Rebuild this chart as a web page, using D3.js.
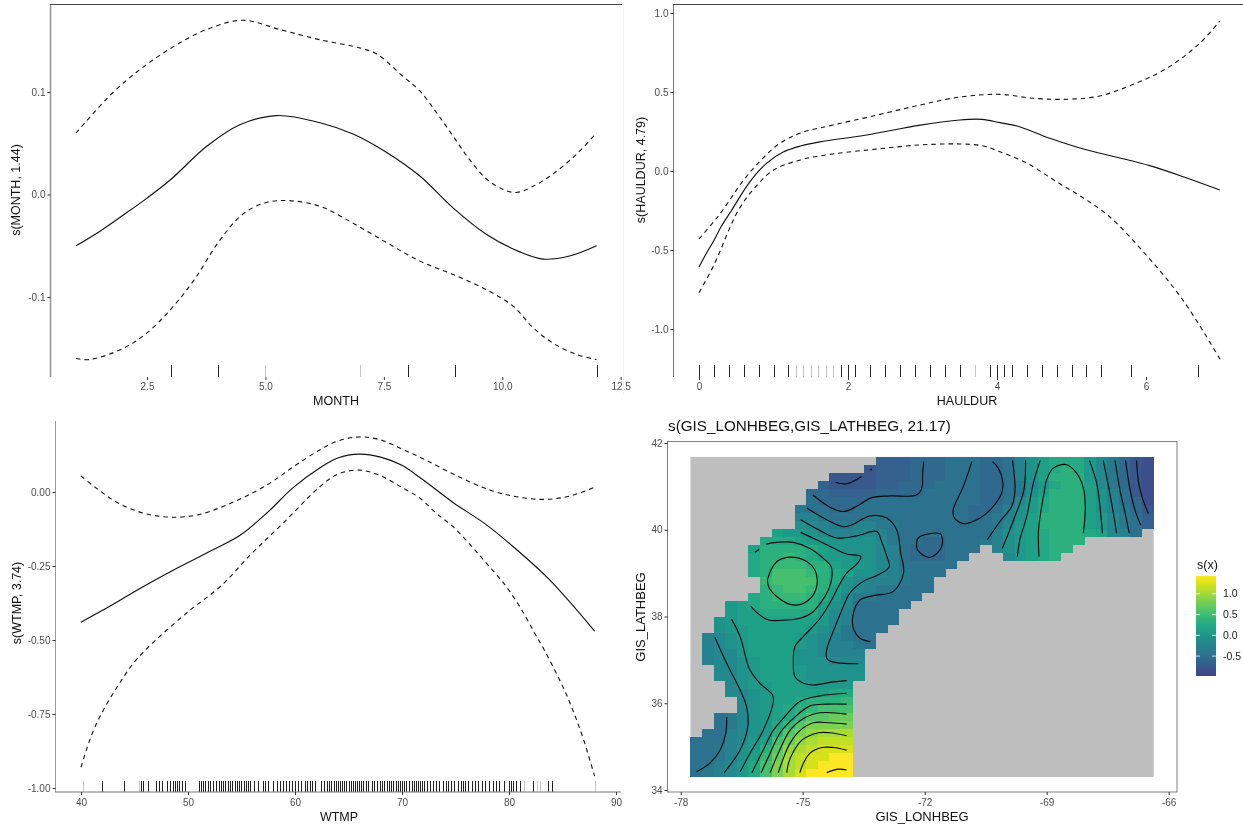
<!DOCTYPE html>
<html><head><meta charset="utf-8">
<script src="https://cdnjs.cloudflare.com/ajax/libs/d3/7.8.5/d3.min.js"></script>
<style>
html,body{margin:0;padding:0;background:#fff}
svg{display:block;filter:blur(0.35px)}
text{font-family:"Liberation Sans",Arial,sans-serif}
</style></head><body>
<svg id="c" width="1243" height="830"></svg>
<script>
// ---------- MONTH panel ----------
const monthMeanX=[1,1.5,2,2.5,3,3.76,4.46,5.24,6.15,6.85,7.56,8.26,8.96,9.67,10.37,10.86,11.42,11.99];
const monthMeanY=[-.05,-.036,-.02,-.0035,.0146,.047,.068,.077,.07,.059,.041,.018,-.013,-.039,-.056,-.063,-.06,-.05];
const monthUpX=[1,1.78,2.41,3.05,3.76,4.52,5.3,6.15,6.99,7.35,7.91,8.26,8.61,8.96,9.31,9.67,10.02,10.3,10.65,11.07,11.56,11.99];
const monthUpY=[.06,.0995,.124,.144,.161,.17,.161,.151,.143,.137,.115,.101,.08,.057,.034,.015,.005,.002,.008,.02,.039,.06];
const monthLoX=[1,1.3,2,2.5,3,3.5,4,4.5,5,5.5,6.15,6.85,7.56,8.26,8.96,9.67,10.23,10.65,11.07,11.56,11.99];
const monthLoY=[-.16,-.161,-.15,-.135,-.112,-.083,-.047,-.02,-.008,-.006,-.0115,-.028,-.047,-.065,-.078,-.093,-.109,-.13,-.145,-.156,-.161];
const monthRug=[3,4,8,9,12];
const monthRugLight=[5,7];
const monthXTicks=[2.5,5,7.5,10,12.5];
const monthYTicks=[.1,0,-.1];
// ---------- HAULDUR panel ----------
const haulMeanX=[0,.1,.2,.3,.44,.68,.91,1.13,1.36,1.62,2.25,2.97,3.5,3.8,4.04,4.27,4.71,5.16,5.61,6.05,6.5,6.99];
const haulMeanY=[-.607,-.52,-.44,-.35,-.247,-.07,.05,.12,.158,.184,.228,.29,.323,.327,.306,.285,.207,.139,.087,.034,-.036,-.12];
const haulUpX=[0,.2,.32,.6,.86,1.09,1.36,1.8,2.39,2.97,3.5,4.04,4.49,4.94,5.38,5.83,6.28,6.72,6.99];
const haulUpY=[-.43,-.32,-.247,-.057,.082,.177,.24,.291,.354,.418,.468,.485,.46,.454,.475,.549,.65,.808,.949];
const haulLoX=[0,.2,.53,.78,1,1.36,1.8,2.39,2.97,3.5,3.8,4.04,4.4,4.8,5.16,5.5,6,6.5,7];
const haulLoY=[-.77,-.595,-.247,-.089,.006,.07,.108,.139,.165,.171,.16,.122,.05,-.068,-.171,-.285,-.53,-.82,-1.196];
const haulRug=[0,.2,.4,.6,.8,1,1.2,1.9,2,2.1,2.3,2.5,2.7,2.9,3.1,3.3,3.5,3.9,4,4.1,4.2,4.4,4.6,4.8,5,5.2,5.4,5.8,6.7];
const haulRugLight=[1.3,1.4,1.5,1.6,1.7,1.8,3.7];
const haulXTicks=[0,2,4,6];
const haulYTicks=[1,.5,0,-.5,-1];
// ---------- WTMP panel ----------
const wtmpMeanX=[40,42.05,45.8,49,52.3,54.9,57.4,59.8,62.3,64,66,68,70,71.7,74.8,77.9,80.4,83.8,88];
const wtmpMeanY=[-.44,-.399,-.32,-.257,-.196,-.145,-.07,.014,.081,.115,.128,.118,.09,.048,-.036,-.111,-.185,-.297,-.47];
const wtmpUpX=[40,41.4,43.3,45.8,48.3,50.8,53.6,57.4,59.8,62.3,64,66,68,70,72.06,75.1,78.2,80.7,83.4,85.7,88];
const wtmpUpY=[.054,.014,-.034,-.071,-.085,-.078,-.044,.024,.084,.142,.172,.186,.176,.145,.111,.055,.007,-.016,-.025,-.0135,.016];
const wtmpLoX=[40,41,42,43.5,45,47,50.2,53,56,58.9,62.3,64,66,68,70,71.7,73.2,74.8,76.4,77.9,79.5,81,82.4,83.3,85,86,87,88];
const wtmpLoY=[-.93,-.82,-.743,-.652,-.574,-.5,-.399,-.32,-.206,-.105,.017,.06,.074,.055,.015,-.021,-.072,-.118,-.179,-.241,-.308,-.387,-.477,-.534,-.655,-.74,-.84,-.96];
const wtmpRug=[42,44,45.6,45.8,46.3,47,47.3,47.6,48,48.3,48.6,48.8,49,49.2,49.4,49.7,51,51.2,51.4,51.6,51.9,52.1,52.3,52.6,52.9,53.1,53.3,53.5,53.7,53.9,54.1,54.4,54.6,54.8,55,55.2,55.4,55.6,55.8,56.2,56.5,57,57.2,57.5,57.9,58.3,58.6,58.9,59.2,59.4,59.7,60,60.3,60.6,60.9,61.1,61.4,61.6,61.9,62.4,62.7,63,63.2,63.4,63.6,63.8,64,64.2,64.4,64.6,64.8,65,65.2,65.4,65.6,65.8,66,66.2,66.4,66.6,66.8,67.2,67.4,67.7,67.9,68.1,68.3,68.6,68.8,69,69.2,69.4,69.6,69.8,70,70.2,70.4,70.7,70.9,71.1,71.3,71.5,71.7,71.9,72.1,72.3,72.6,72.9,73.2,73.5,73.8,74.1,74.3,74.6,74.9,75.2,75.5,75.7,75.9,76.2,76.5,76.8,77.1,77.5,77.8,78.1,78.5,78.8,79.1,79.5,80,80.2,80.4,80.7,81,82.2,83.6,84];
const wtmpRugLight=[40.2,45.4,81.4,82.6,82.9,88];
const wtmpXTicks=[40,50,60,70,80,90];
const wtmpYTicks=[0,-.25,-.5,-.75,-1];
// ---------- Spatial panel ----------
const lonTicks=[-78,-75,-72,-69,-66];
const latTicks=[34,36,38,40,42];
const legendTicks=[1,.5,0,-.5];
const fieldLevels="abcdefghijklmnopqrstuvwxy"; // a = -0.96 ... y = 1.44 in steps of 0.1
const fieldStart=[16,15,12,11,10,10,9,9,9,7,6,5,5,5,5,6,6,5,3,3,2,2,1,1,1,1,2,2,3,3,4,4,2,2,1,0,0,0,0,0];
const fieldRows=[
"dddeeefffeefhjlmmmkigecb",
"cdddeeefffeefhjlmnmkigecb",
"ccccdddeeefffeefhjlnnnkigecb",
"dccccddeeeffffeefgikmnnligecb",
"eeddddeeeefffffeefgjlnnnljhfcb",
"feeeeffffffffffeefikmnnnljhfeb",
"gffeeffffffffffeefhjkmnnnljhgec",
"hhgfffggfffffffefghjlnnnnlkigfd",
"jihgghhggffffffffgiklnnnnlkigfd",
"lkkjihhiihgffffffffhjklmnnnmlihf",
"mmmlkkjjjjigffeefffghjklmnnn",
"lnnnnmlkjjjihfeeefff.hjklmnn",
"mnnonmlkkjjihfeeeff...iklmn",
"mnooonnlkkjihfffff",
"mnppponmljjihgfff",
"oppppnmjihhhgff",
"nopponljihggfff",
"mnooonmkiggffff",
"klmnnnnnljifffff",
"kllmmmmmkihffff",
"jklllllllkihffff",
"jkklllllkjigfff",
"hijkllllkjihgff",
"hijkllllkjihhgf",
"hiikllllјjihhh".replace(/[^a-z]/g,"j"),
"hiijklllјjjiii".replace(/[^a-z]/g,"j"),
"iijklllkjjjjj",
"iijklllkjjjjj",
"ijkklllkkkk",
"iijklllllmm",
"ijkllmnnno",
"ijklmnoppp",
"fgijklmoqqrr",
"fgijkmoqssss",
"ffhijknqstuuu",
"fffhiklprtuvvv",
"ffghjknqtuvwww",
"ffghjloruvwwyy",
"fghikmpsuvwyyy",
"fghikmpsuwyyyy"
];
const fieldLon=[-77.76,-66.37];
const fieldLat=[41.68,34.30];
const contourLines=[
[[-75.87,38.84],[-75.76,39.11],[-75.60,39.29],[-75.31,39.37],[-74.90,39.27],[-74.70,39.07],[-74.64,38.81],[-74.74,38.50],[-75.02,38.29],[-75.31,38.28],[-75.64,38.46],[-75.82,38.65],[-75.87,38.84]],
[[-76.17,39.48],[-76.07,39.55]],
[[-75.90,39.67],[-75.64,39.71],[-75.23,39.71],[-74.82,39.57],[-74.49,39.34],[-74.30,39.15],[-74.28,38.92],[-74.37,38.61],[-74.56,38.31],[-74.78,38.08],[-75.07,37.96],[-75.39,37.92],[-75.84,37.92],[-76.09,38.06],[-76.28,38.24]],
[[-75.05,39.94],[-74.66,39.77],[-74.16,39.54],[-73.92,39.44],[-73.57,39.38],[-73.67,39.21],[-73.92,39.00],[-74.12,38.69],[-74.29,38.38],[-74.57,37.96],[-74.98,37.54],[-75.19,37.31],[-75.23,36.92],[-75.19,36.61],[-74.98,36.46],[-74.74,36.42],[-74.33,36.48],[-73.92,36.52]],
[[-75.05,40.23],[-74.57,39.98],[-74.16,39.81],[-73.67,39.86],[-73.18,39.96],[-73.06,39.73],[-72.93,39.38],[-72.87,39.15],[-73.14,38.96],[-73.51,38.81],[-73.84,38.54],[-74.00,38.23],[-74.20,37.77],[-74.41,37.23],[-74.41,37.04],[-74.29,36.96],[-73.63,36.91]],
[[-74.90,40.50],[-74.41,40.23],[-74.00,40.07],[-73.80,40.11],[-73.34,40.32],[-72.93,40.27],[-72.69,40.00],[-72.59,39.46],[-72.52,39.00],[-72.77,38.58],[-73.26,38.48],[-73.59,38.38],[-73.77,38.00],[-73.74,37.69],[-73.59,37.50],[-73.34,37.42]],
[[-74.75,40.80],[-74.33,40.52],[-74.00,40.42],[-73.67,40.54],[-73.34,40.73],[-72.85,40.78],[-72.20,40.80],[-72.07,40.96],[-72.05,41.30],[-72.02,41.57]],
[[-74.19,41.09],[-73.92,41.06],[-73.55,41.23]],
[[-73.34,41.37],[-73.30,41.40]],
[[-72.20,39.69],[-72.16,39.81],[-71.93,39.90],[-71.61,39.90],[-71.56,39.73],[-71.62,39.54],[-71.89,39.36],[-72.18,39.54],[-72.20,39.69]],
[[-70.84,41.57],[-71.05,41.00],[-71.30,40.46],[-71.28,40.29],[-71.05,40.14],[-70.64,40.27],[-70.35,40.50],[-70.11,40.84],[-70.08,41.11],[-70.19,41.42],[-70.33,41.57]],
[[-69.84,41.60],[-69.78,40.92],[-69.86,40.54],[-70.15,40.19],[-70.46,39.77]],
[[-69.52,41.60],[-69.56,40.92],[-69.78,40.31],[-70.09,39.57]],
[[-69.16,41.60],[-69.33,41.07],[-69.49,40.31],[-69.66,39.77],[-69.72,39.38]],
[[-69.19,39.38],[-69.20,40.00],[-69.08,40.77],[-69.00,41.15],[-68.84,41.42],[-68.51,41.50],[-68.26,41.30],[-68.11,41.00],[-68.05,40.54],[-68.10,39.92]],
[[-67.95,41.60],[-67.77,41.07],[-67.69,40.54],[-67.63,39.92]],
[[-67.61,41.60],[-67.48,41.00],[-67.36,40.38],[-67.28,39.92]],
[[-67.32,41.60],[-67.20,40.92],[-67.07,40.38],[-66.97,39.92]],
[[-67.06,41.60],[-66.95,40.92],[-66.83,40.46],[-66.69,40.11]],
[[-66.79,41.60],[-66.75,41.15],[-66.66,40.77],[-66.50,40.37]],
[[-76.75,37.94],[-76.54,37.54],[-76.30,36.77],[-76.05,36.46],[-75.74,36.19],[-75.72,36.04],[-75.97,35.38],[-76.25,34.92],[-76.54,34.42]],
[[-77.16,37.52],[-76.87,36.92],[-76.54,36.31],[-76.38,35.92],[-76.35,35.46],[-76.54,34.92],[-76.93,34.40]],
[[-76.87,35.68],[-76.89,35.31],[-77.03,34.92],[-77.28,34.62],[-77.61,34.42]],
[[-73.92,36.23],[-74.57,36.17],[-75.07,36.04],[-75.48,35.65],[-75.72,35.38],[-76.01,34.85],[-76.25,34.40]],
[[-73.92,35.98],[-74.41,35.98],[-74.82,35.94],[-75.23,35.65],[-75.56,35.31],[-75.80,34.85],[-76.02,34.40]],
[[-73.92,35.75],[-74.57,35.78],[-74.98,35.65],[-75.31,35.38],[-75.60,34.85],[-75.80,34.40]],
[[-73.92,35.52],[-74.33,35.55],[-74.74,35.55],[-75.07,35.37],[-75.31,35.08],[-75.46,34.77],[-75.60,34.40]],
[[-73.92,35.25],[-74.33,35.32],[-74.61,35.32],[-75.02,35.15],[-75.23,34.88],[-75.35,34.62],[-75.39,34.40]],
[[-73.92,34.92],[-74.25,34.98],[-74.53,34.98],[-74.82,34.85],[-74.98,34.62],[-75.07,34.40]],
[[-74.41,34.40],[-74.12,34.48],[-73.92,34.46]]
];

const svg=d3.select("#c");
const zip=(xs,ys)=>xs.map((x,i)=>[x,ys[i]]);
const TXT="#4d4d4d";

function axisStyle(g){
  g.selectAll("text").attr("fill",TXT).style("font-size","10px").style("font-family",'"Liberation Sans",Arial,sans-serif');
  g.selectAll(".tick line").attr("stroke","#333");
}
function title(x,y,s,size,rot){
  const t=svg.append("text").text(s).attr("text-anchor","middle").attr("fill","#111").style("font-size",size+"px");
  if(rot) t.attr("transform",`translate(${x},${y}) rotate(-90)`); else t.attr("x",x).attr("y",y);
  return t;
}
function linePanel(o){
  const x=d3.scaleLinear().domain(o.xd).range(o.xr);
  const y=d3.scaleLinear().domain(o.yd).range(o.yr);
  const path=d3.line().x(d=>x(d[0])).y(d=>y(d[1])).curve(d3.curveCatmullRom.alpha(.5));
  const rug=(vals,color)=>svg.append("g").selectAll("line").data(vals).join("line")
    .attr("x1",d=>Math.round(x(d))+.5).attr("x2",d=>Math.round(x(d))+.5)
    .attr("y1",o.rug[0]).attr("y2",o.rug[1]).attr("stroke",color).attr("stroke-width",1);
  rug(o.rugLight,"#c4c4c4");
  rug(o.rugVals,"#222");
  svg.append("path").attr("d",path(o.mean)).attr("fill","none").attr("stroke","#111").attr("stroke-width",1.15);
  [o.up,o.lo].forEach(d=>svg.append("path").attr("d",path(d)).attr("fill","none").attr("stroke","#111").attr("stroke-width",1.1).attr("stroke-dasharray","4.5,4"));
  const ay=svg.append("g").attr("transform",`translate(${o.left+.5},0)`)
    .call(d3.axisLeft(y).tickValues(o.yt).tickSize(3).tickPadding(2).tickFormat(d=>d.toFixed(o.yDec)));
  ay.select(".domain").attr("d",`M0,${o.yTop}V${o.bottom}`).attr("stroke",o.leftColor).attr("stroke-width",o.leftW);
  axisStyle(ay);
  const ax=svg.append("g").attr("transform",`translate(0,${o.axisY})`)
    .call(d3.axisBottom(x).tickValues(o.xt).tickSize(3).tickPadding(o.xPad).tickFormat(d=>d.toFixed(o.xDec)));
  if(o.xLine) ax.select(".domain").attr("d",`M${o.left},0H${o.xLine}`).attr("stroke","#777").attr("stroke-width",1);
  else ax.select(".domain").remove();
  axisStyle(ax);
  if(o.topLine) svg.append("line").attr("x1",o.left).attr("x2",o.topLine).attr("y1",o.yTop+.5).attr("y2",o.yTop+.5).attr("stroke","#444");
}

// MONTH
linePanel({xd:[1,12],xr:[76,597],yd:[-.1,.1],yr:[297,92],mean:zip(monthMeanX,monthMeanY),up:zip(monthUpX,monthUpY),lo:zip(monthLoX,monthLoY),
  rugVals:monthRug,rugLight:monthRugLight,rug:[365,377],left:50,yTop:4,bottom:377,axisY:377,xt:monthXTicks,yt:monthYTicks,xDec:1,yDec:1,xPad:3,leftColor:"#999",leftW:1.6,topLine:622});
title(336,405,"MONTH",12.5);
title(20,190,"s(MONTH, 1.44)",12.5,true);
svg.append("line").attr("x1",623.5).attr("x2",623.5).attr("y1",4).attr("y2",395).attr("stroke","#f2f2f2");
// HAULDUR
linePanel({xd:[0,7],xr:[699,1220.5],yd:[-1,1],yr:[329,13],mean:zip(haulMeanX,haulMeanY),up:zip(haulUpX,haulUpY),lo:zip(haulLoX,haulLoY),
  rugVals:haulRug,rugLight:haulRugLight,rug:[365,377],left:673,yTop:4,bottom:377,axisY:377,xt:haulXTicks,yt:haulYTicks,xDec:0,yDec:1,xPad:3,leftColor:"#777",leftW:1,topLine:1243});
title(967,405,"HAULDUR",12.5);
title(645,170,"s(HAULDUR, 4.79)",12.5,true);
// WTMP
linePanel({xd:[40,90],xr:[81,616],yd:[-1,0],yr:[788,492],mean:zip(wtmpMeanX,wtmpMeanY),up:zip(wtmpUpX,wtmpUpY),lo:zip(wtmpLoX,wtmpLoY),
  rugVals:wtmpRug,rugLight:wtmpRugLight,rug:[781,792],left:55,yTop:421,bottom:792,axisY:792,xt:wtmpXTicks,yt:wtmpYTicks,xDec:0,yDec:2,xPad:4,leftColor:"#999",leftW:1,xLine:621});
title(339,821,"WTMP",12.5);
title(21,603,"s(WTMP, 3.74)",12.5,true);

// Spatial
const lonS=d3.scaleLinear().domain([-78,-66]).range([680.7,1168.7]);
const latS=d3.scaleLinear().domain([34,42]).range([790,443]);
const sVal=ch=>-.96+.1*fieldLevels.indexOf(ch);
const colorT=d3.scaleLinear().domain([-.98,1.43]).range([.2,1]).clamp(true);
const fill=v=>d3.interpolateViridis(colorT(v));
svg.append("rect").attr("x",lonS(fieldLon[0])).attr("y",latS(fieldLat[0]))
  .attr("width",lonS(fieldLon[1])-lonS(fieldLon[0])).attr("height",latS(fieldLat[1])-latS(fieldLat[0])).attr("fill","#bebebe");
const nC=40,nR=40,dLon=(fieldLon[1]-fieldLon[0])/nC,dLat=(fieldLat[1]-fieldLat[0])/nR;
const cells=[];
fieldRows.forEach((r,j)=>{[...r].forEach((c,k)=>{ if(c!==".") cells.push({i:fieldStart[j]+k,j,v:sVal(c)}); });});
svg.append("g").attr("shape-rendering","crispEdges").selectAll("rect").data(cells).join("rect")
  .attr("x",d=>lonS(fieldLon[0]+d.i*dLon)).attr("y",d=>latS(fieldLat[0]+d.j*dLat))
  .attr("width",lonS(fieldLon[0]+dLon)-lonS(fieldLon[0])+.4).attr("height",latS(fieldLat[0]+dLat)-latS(fieldLat[0])+.4)
  .attr("fill",d=>fill(d.v));
const cl=d3.line().x(d=>lonS(d[0])).y(d=>latS(d[1])).curve(d3.curveCatmullRom.alpha(.5));
svg.append("g").selectAll("path").data(contourLines).join("path").attr("d",cl).attr("fill","none").attr("stroke","#0b0b0b").attr("stroke-width",1.15);
svg.append("rect").attr("x",667.5).attr("y",441.5).attr("width",509.5).attr("height",350.5).attr("fill","none").attr("stroke","#7f7f7f");
const a4y=svg.append("g").attr("transform","translate(667.5,0)").call(d3.axisLeft(latS).tickValues(latTicks).tickSize(3).tickPadding(2).tickFormat(d3.format("d")));
a4y.select(".domain").remove(); axisStyle(a4y);
const a4x=svg.append("g").attr("transform","translate(0,792)").call(d3.axisBottom(lonS).tickValues(lonTicks).tickSize(3).tickPadding(4).tickFormat(d=>String(d)));
a4x.select(".domain").remove(); axisStyle(a4x);
title(668,431,"s(GIS_LONHBEG,GIS_LATHBEG, 21.17)",15.25).attr("text-anchor","start");
title(922,821,"GIS_LONHBEG",13);
title(645,617,"GIS_LATHBEG",13,true);
// legend
const legS=d3.scaleLinear().domain([-.98,1.43]).range([676,576]);
const defs=svg.append("defs");
const grad=defs.append("linearGradient").attr("id","leg").attr("x1",0).attr("x2",0).attr("y1",1).attr("y2",0);
d3.range(0,1.0001,.05).forEach(p=>grad.append("stop").attr("offset",p).attr("stop-color",d3.interpolateViridis(.2+.8*p)));
svg.append("rect").attr("x",1196).attr("y",576).attr("width",20).attr("height",100).attr("fill","url(#leg)");
legendTicks.forEach(v=>{
  const y=legS(v);
  [[1196,1200],[1212,1216]].forEach(([a,b])=>svg.append("line").attr("x1",a).attr("x2",b).attr("y1",y).attr("y2",y).attr("stroke","#fff").attr("stroke-width",.8));
  svg.append("text").attr("x",1223).attr("y",y+3.5).attr("fill","#222").style("font-size","10.5px").text(v.toFixed(1));
});
svg.append("text").attr("x",1197).attr("y",569).attr("fill","#111").style("font-size","12.5px").text("s(x)");
</script>
</body></html>
